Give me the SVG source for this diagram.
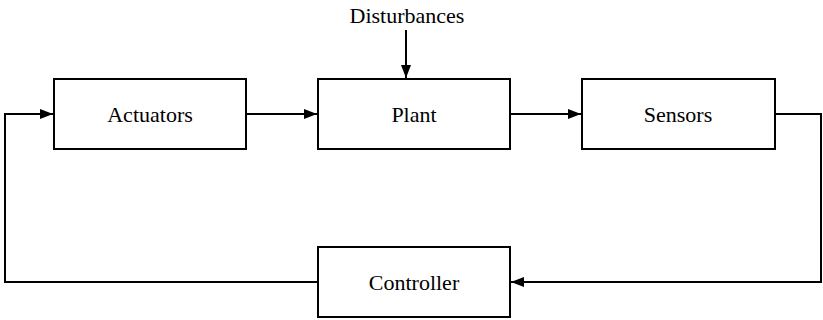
<svg xmlns="http://www.w3.org/2000/svg" width="823" height="320" viewBox="0 0 823 320">
<defs>
<marker id="arr" markerUnits="userSpaceOnUse" markerWidth="14" markerHeight="12" refX="13" refY="5" orient="auto">
<path d="M0,0 L13,5 L0,10 z" fill="#000"/>
</marker>
<style>
.box{fill:#fff;stroke:#000;stroke-width:2}
.lbl{font-family:'Liberation Serif','Times New Roman',serif;font-size:22px;fill:#000;text-anchor:middle}
.con{fill:none;stroke:#000;stroke-width:2}
</style>
</defs>
<rect width="823" height="320" fill="#fff"/>
<g id="connectors">
<path class="con" d="M246,114 H317" marker-end="url(#arr)"/>
<path class="con" d="M510,114 H581" marker-end="url(#arr)"/>
<path class="con" d="M775,114 H821 V282 H511" marker-end="url(#arr)"/>
<path class="con" d="M318,282 H5 V114 H53" marker-end="url(#arr)"/>
<path class="con" d="M406,30 V78" marker-end="url(#arr)"/>
</g>
<g id="actuators"><rect class="box" x="54" y="79" width="192" height="70"/><text class="lbl" x="150" y="121.5">Actuators</text></g>
<g id="plant"><rect class="box" x="318" y="79" width="192" height="70"/><text class="lbl" x="414" y="121.5">Plant</text></g>
<g id="sensors"><rect class="box" x="582" y="79" width="193" height="70"/><text class="lbl" x="678" y="121.5">Sensors</text></g>
<g id="controller"><rect class="box" x="318" y="247" width="192" height="70"/><text class="lbl" x="414" y="289.5">Controller</text></g>
<g id="disturbances"><text class="lbl" x="407" y="23">Disturbances</text></g>
</svg>
